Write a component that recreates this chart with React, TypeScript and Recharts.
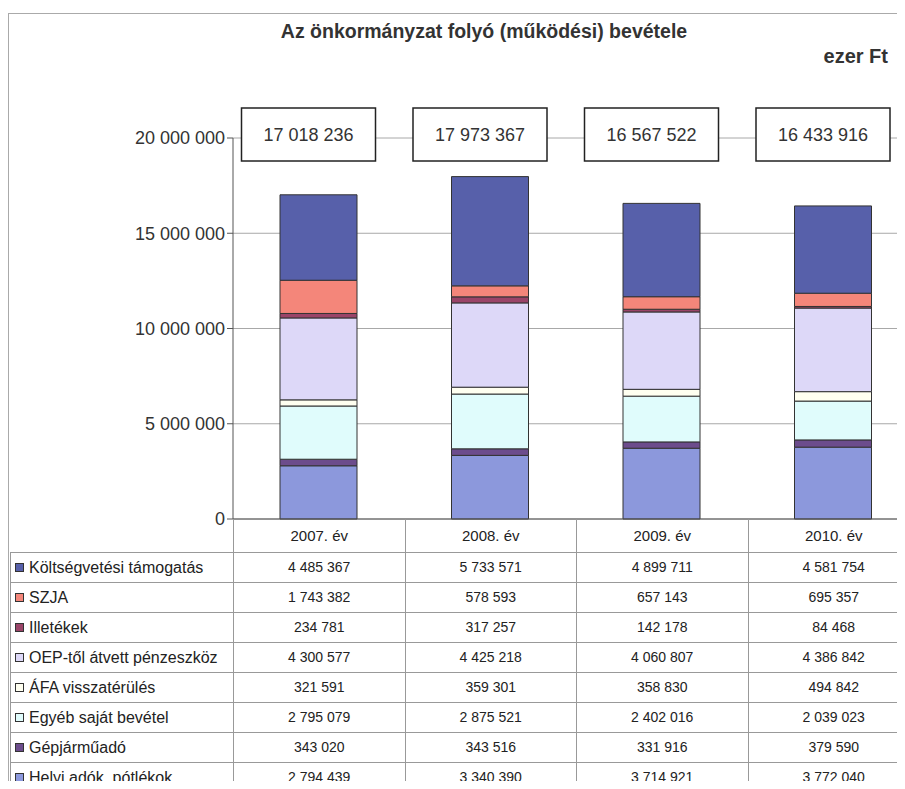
import React from 'react';
import { BarChart, Bar, XAxis, YAxis, CartesianGrid, LabelList } from 'recharts';

const years = ['2007. év', '2008. év', '2009. év', '2010. év'];

const koltsegvetesi = [4485367, 5733571, 4899711, 4581754];
const szja = [1743382, 578593, 657143, 695357];
const illetekek = [234781, 317257, 142178, 84468];
const oep = [4300577, 4425218, 4060807, 4386842];
const afa = [321591, 359301, 358830, 494842];
const egyeb = [2795079, 2875521, 2402016, 2039023];
const gepjarmu = [343020, 343516, 331916, 379590];
const helyi = [2794439, 3340390, 3714921, 3772040];

const yTicks = [0, 5000000, 10000000, 15000000, 20000000];

// listed in table order; the stack is built from the last one upwards
const series = [
  { key: 'koltsegvetesi', name: 'Költségvetési támogatás', values: koltsegvetesi, color: '#5760aa' },
  { key: 'szja', name: 'SZJA', values: szja, color: '#f4867a' },
  { key: 'illetekek', name: 'Illetékek', values: illetekek, color: '#9a4468' },
  { key: 'oep', name: 'OEP-től átvett pénzeszköz', values: oep, color: '#ddd8f8' },
  { key: 'afa', name: 'ÁFA visszatérülés', values: afa, color: '#fffff0' },
  { key: 'egyeb', name: 'Egyéb saját bevétel', values: egyeb, color: '#e0fcfc' },
  { key: 'gepjarmu', name: 'Gépjárműadó', values: gepjarmu, color: '#6c4c8c' },
  { key: 'helyi', name: 'Helyi adók, pótlékok', values: helyi, color: '#8c98dc' },
];

const data = years.map((year, i) => {
  const row: Record<string, string | number> = { year };
  let total = 0;
  series.forEach((s) => {
    row[s.key] = s.values[i];
    total += s.values[i];
  });
  row.total = total;
  return row;
});

const fmt = (v: number) => String(Math.round(v)).replace(/\B(?=(\d{3})+(?!\d))/g, ' ');

const FONT = '"Liberation Sans", Arial, sans-serif';
const PLOT_TOP = 138;
const YAXIS_W = 233;
const BAND = 171.5;

function TotalBox(props: any) {
  const { x, width, value } = props;
  const cx = Number(x) + Number(width) / 2 - 10;
  return (
    <g>
      <rect x={cx - 67} y={PLOT_TOP - 30} width={134} height={53} fill="#fff" stroke="#222" strokeWidth={1.5} />
      <text x={cx} y={PLOT_TOP - 3} textAnchor="middle" dominantBaseline="central" fontSize={18} fill="#333" fontFamily={FONT}>
        {fmt(Number(value))}
      </text>
    </g>
  );
}

const cell: React.CSSProperties = {
  border: '1px solid #999',
  padding: 0,
  textAlign: 'center',
  fontSize: 14,
  color: '#222',
};

export default function App() {
  return (
    <div style={{ margin: -8, width: 905, height: 789, position: 'relative', overflow: 'hidden', background: '#fff', fontFamily: FONT }}>
      {/* outer frame */}
      <div style={{ position: 'absolute', left: 8, top: 13, width: 1000, height: 1000, border: '1px solid #aaa' }} />

      <div style={{ position: 'absolute', left: 0, top: 20, width: 968, textAlign: 'center', fontWeight: 'bold', fontSize: 19.5, color: '#333' }}>
        Az önkormányzat folyó (működési) bevétele
      </div>
      <div style={{ position: 'absolute', right: 17, top: 45, fontWeight: 'bold', fontSize: 20, color: '#333' }}>ezer Ft</div>

      <div style={{ position: 'absolute', left: 0, top: 0 }}>
        <BarChart
          width={YAXIS_W + BAND * 4 + 40}
          height={552}
          data={data}
          margin={{ top: PLOT_TOP, right: 40, left: 0, bottom: 0 }}
          barSize={77}
        >
          <CartesianGrid vertical={false} stroke="#a8a8a8" />
          <XAxis dataKey="year" height={33} tick={false} tickLine={false} axisLine={{ stroke: '#555' }} />
          <YAxis
            width={YAXIS_W}
            domain={[0, 20000000]}
            ticks={yTicks}
            interval={0}
            tickFormatter={fmt}
            axisLine={{ stroke: '#555' }}
            tickLine={{ stroke: '#555' }}
            tickSize={6}
            tick={{ fontSize: 18, fill: '#333', fontFamily: FONT }}
          />
          {[...series].reverse().map((s) => (
            <Bar key={s.key} dataKey={s.key} name={s.name} stackId="a" fill={s.color} stroke="#333" strokeWidth={1} isAnimationActive={false}>
              {s.key === 'koltsegvetesi' && <LabelList dataKey="total" content={TotalBox} />}
            </Bar>
          ))}
        </BarChart>
      </div>

      <table
        style={{
          position: 'absolute',
          left: 10,
          top: 519,
          borderCollapse: 'collapse',
          tableLayout: 'fixed',
          width: 223 + BAND * 4,
        }}
      >
        <colgroup>
          <col style={{ width: 223 }} />
          {years.map((y) => (
            <col key={y} style={{ width: BAND }} />
          ))}
        </colgroup>
        <tbody>
          <tr style={{ height: 33 }}>
            <td style={{ ...cell, border: 'none', borderRight: '1px solid #999' }} />
            {years.map((y) => (
              <td key={y} style={{ ...cell, borderTop: 'none', fontSize: 15 }}>
                {y}
              </td>
            ))}
          </tr>
          {series.map((s) => (
            <tr key={s.key} style={{ height: 30 }}>
              <td style={{ ...cell, textAlign: 'left', fontSize: 16, whiteSpace: 'nowrap', overflow: 'hidden' }}>
                <span
                  style={{
                    display: 'inline-block',
                    width: 7,
                    height: 7,
                    background: s.color,
                    border: '1px solid #333',
                    marginLeft: 4,
                    marginRight: 5,
                    verticalAlign: 'middle',
                  }}
                />
                <span style={{ verticalAlign: 'middle' }}>{s.name}</span>
              </td>
              {s.values.map((v, i) => (
                <td key={i} style={cell}>
                  {fmt(v)}
                </td>
              ))}
            </tr>
          ))}
        </tbody>
      </table>
    </div>
  );
}
